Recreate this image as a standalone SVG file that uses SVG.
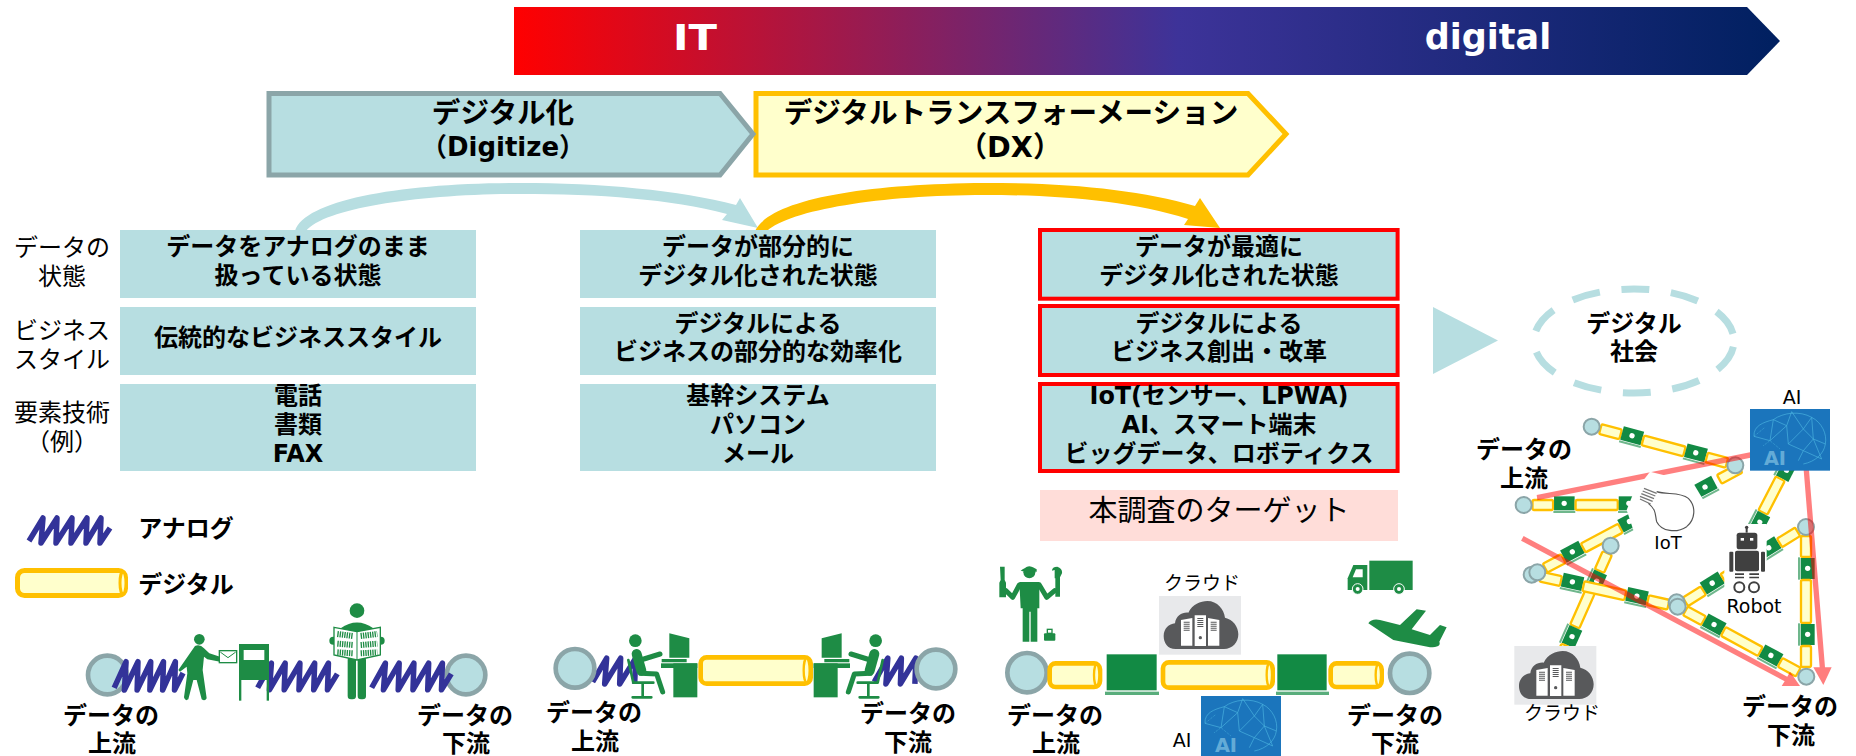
<svg xmlns="http://www.w3.org/2000/svg" xmlns:xlink="http://www.w3.org/1999/xlink" width="1856" height="756" viewBox="0 0 1856 756">
<style>
text{font-family:"DejaVu Sans","Noto Sans CJK JP",sans-serif;text-anchor:middle;dominant-baseline:central;fill:#000}
.b{font-weight:700}
.t24{font-size:24px}.t19{font-size:19px}
.box{fill:#B7DEE1}
.red{fill:#B7DEE1;stroke:#FF0000;stroke-width:4}
.zz{fill:none;stroke:#333399;stroke-width:5.5;stroke-linejoin:round;vector-effect:non-scaling-stroke}
.n{fill:#B7DEE1;stroke:#8BA5A8}
.pp{fill:#FFFFCC;stroke:#FFC000}
.gr{fill:#1E8C45}
.gs{fill:none;stroke:#1E8C45;stroke-linecap:round;stroke-linejoin:round}
.lt{fill:#128A44}
</style>
<defs>
<linearGradient id="grad" x1="0" x2="1" y1="0" y2="0">
<stop offset="0" stop-color="#FF0000"/><stop offset="0.525" stop-color="#3D3399"/><stop offset="1" stop-color="#002060"/>
</linearGradient>
<path id="zig" class="zz" d="M1 26L15 3L13 28L29 3L28 28L44 3L43 28L59 3L58 28L73 3L72 28L82 13"/>
<path id="zig3" class="zz" d="M1 26L15 3L13 28L29 3L28 28L44 3L43 28"/>
<g id="cloudimg">
<rect width="246" height="176" fill="#E8E9EB"/>
<path fill="#58595B" d="M50 159C25 159 14 140 14 120C14 98 30 84 48 82C50 60 70 48 88 50C100 25 125 15 145 15C175 15 195 40 198 65C222 70 238 92 238 115C238 140 220 159 195 159Z"/>
<path fill="#fff" d="M66 72L100 66V149H66ZM107 58H141V150H107ZM147 66L181 72V149H147Z"/>
<path fill="none" stroke="#58595B" stroke-width="18" stroke-dasharray="3 3" d="M83 77V105M124 66V94M164 77V105"/>
<circle cx="124" cy="125" r="5" fill="#58595B"/>
</g>
<g id="aiimg">
<rect width="240" height="185" fill="#1B75BC"/>
<g fill="none" stroke="#58C4EA" stroke-width="2" opacity=".8">
<path d="M12 82C10 50 40 40 70 32C100 10 150 5 185 25C215 40 232 75 226 105C222 135 195 158 160 165"/>
<path d="M12 82L60 95L70 32L110 50L125 8L160 60L185 25L190 90L226 105M60 95L110 50L115 105L160 60L190 90L160 125L115 105M190 90L215 150L160 125L145 155"/>
<path d="M12 82L45 55M40 110L60 95L90 120" stroke-dasharray="3 3"/>
</g>
<text x="75" y="150" font-size="58" font-weight="700" style="fill:#9FD8EE;opacity:.55">AI</text>
</g>
<g id="lap">
<rect x="0" y="-26" width="63" height="42" class="lt"/><rect x="-2" y="18" width="67" height="6" fill="#6FB78C"/><circle cx="31" cy="-5" r="8" fill="#fff"/>
</g>
<g id="chain">
<rect x="27" y="-15" width="63" height="30" rx="5" class="pp" stroke-width="7"/>
<use xlink:href="#lap" href="#lap" x="93"/>
<rect x="159" y="-15" width="129" height="30" rx="5" class="pp" stroke-width="7"/>
<use xlink:href="#lap" href="#lap" x="291"/>
<rect x="357" y="-15" width="63" height="30" rx="5" class="pp" stroke-width="7"/>
</g>
<g id="deskman">
<circle cx="346" cy="452" r="19" class="gr"/>
<path class="gs" stroke-width="30" d="M350 492L364 542"/>
<path class="gs" stroke-width="15" d="M362 510L420 492M362 550L410 552L428 606"/>
<path class="gs" stroke-width="8" d="M325 510L340 578L400 578M368 580V620M338 622H394"/>
<rect x="460" y="520" width="72" height="102" class="gr"/><rect x="423" y="520" width="109" height="14" class="gr"/>
<path class="gr" d="M448 430L508 445V503H448ZM425 507H500V517H425Z"/>
</g>
</defs>

<g id="top-arrow">
<polygon points="514,7 1747,7 1780,41 1747,75 514,75" fill="url(#grad)"/>
<text x="695" y="37" class="b" font-size="36" textLength="44" lengthAdjust="spacingAndGlyphs" style="fill:#fff">IT</text>
<text x="1488" y="37" class="b" font-size="35" style="fill:#fff">digital</text>
</g>

<g id="node-dx">
<polygon points="756,93.5 1248,93.5 1286,134 1248,175 756,175" fill="#FFFFCC" stroke="#FFC000" stroke-width="5"/>
<text x="1011" y="113" class="b" font-size="28.6">デジタルトランスフォーメーション</text>
<text x="1010" y="147" class="b" font-size="28.6">（DX）</text>
</g>
<g id="node-digitize">
<polygon points="269,93.5 720,93.5 753,134 720,175 269,175" fill="#B7DEE1" stroke="#8BA5A8" stroke-width="5"/>
<text x="503" y="113" class="b" font-size="28.6">デジタル化</text>
<text x="503" y="147" class="b" font-size="26">（Digitize）</text>
</g>

<g id="connectors">
<path fill="#B7DEE1" d="M295 231C305 200 400 183 520 183C600 183 680 190 736 205L740 198L758 228L722 220L727 214C670 199 600 194 520 194C420 194 325 208 306 231Z"/>
<path fill="#FFC000" d="M755 231C770 200 860 184 985 183C1070 183 1140 190 1195 206L1200 198L1220 228L1184 225L1188 219C1130 201 1060 195 985 195C880 195 790 210 767 231Z"/>
</g>

<g id="row-labels">
<text x="62" y="248" class="t24">データの</text><text x="62" y="277" class="t24">状態</text>
<text x="62" y="331" class="t24">ビジネス</text><text x="62" y="360" class="t24">スタイル</text>
<text x="62" y="413" class="t24">要素技術</text><text x="62" y="442" class="t24">（例）</text>
</g>

<g id="node-a1"><rect class="box" x="120" y="230" width="356" height="68"/><text x="298" y="247" class="b t24">データをアナログのまま</text><text x="298" y="276" class="b t24">扱っている状態</text></g>
<g id="node-a2"><rect class="box" x="120" y="307" width="356" height="68"/><text x="298" y="338" class="b t24">伝統的なビジネススタイル</text></g>
<g id="node-a3"><rect class="box" x="120" y="384" width="356" height="87"/><text x="298" y="396" class="b t24">電話</text><text x="298" y="425" class="b t24">書類</text><text x="298" y="454" class="b t24">FAX</text></g>

<g id="node-b1"><rect class="box" x="580" y="230" width="356" height="68"/><text x="758" y="247" class="b t24">データが部分的に</text><text x="758" y="276" class="b t24">デジタル化された状態</text></g>
<g id="node-b2"><rect class="box" x="580" y="307" width="356" height="68"/><text x="758" y="324" class="b t24">デジタルによる</text><text x="758" y="352" class="b t24">ビジネスの部分的な効率化</text></g>
<g id="node-b3"><rect class="box" x="580" y="384" width="356" height="87"/><text x="758" y="396" class="b t24">基幹システム</text><text x="758" y="425" class="b t24">パソコン</text><text x="758" y="454" class="b t24">メール</text></g>

<g id="node-c1"><rect class="red" x="1040" y="230" width="357.6" height="68.7"/><text x="1219" y="247" class="b t24">データが最適に</text><text x="1219" y="276" class="b t24">デジタル化された状態</text></g>
<g id="node-c2"><rect class="red" x="1040" y="306" width="357.6" height="69"/><text x="1219" y="324" class="b t24">デジタルによる</text><text x="1219" y="352" class="b t24">ビジネス創出・改革</text></g>
<g id="node-c3"><rect class="red" x="1040" y="384" width="357.6" height="87"/><text x="1219" y="396" class="b t24" textLength="259" lengthAdjust="spacingAndGlyphs">IoT(センサー、LPWA)</text><text x="1219" y="425" class="b t24">AI、スマート端末</text><text x="1219" y="454" class="b t24">ビッグデータ、ロボティクス</text></g>

<g id="node-target"><rect x="1040" y="490" width="358" height="51" fill="#FFDDD9"/><text x="1219" y="511" font-size="29">本調査のターゲット</text></g>

<g id="node-society">
<polygon points="1433,307 1433,374 1498,340.5" fill="#B7DEE1"/>
<ellipse cx="1634" cy="341" rx="100" ry="52" fill="none" stroke="#B7DEE1" stroke-width="7" stroke-dasharray="28 21.7" stroke-dashoffset="-6"/>
<text x="1634" y="324" class="b t24">デジタル</text><text x="1634" y="352" class="b t24">社会</text>
</g>

<g id="legend">
<use href="#zig" transform="translate(28,515)"/>
<text x="186" y="529" class="b t24">アナログ</text>
<rect x="17.5" y="570.5" width="108" height="25" rx="7" class="pp" stroke-width="5"/>
<ellipse cx="123" cy="583" rx="3" ry="11" class="pp" stroke-width="3"/>
<text x="186" y="585" class="b t24">デジタル</text>
</g>

<g id="flow-analog">
<g transform="translate(0,490) scale(.33333)">
<circle cx="322" cy="555" r="58" class="n" stroke-width="14"/><circle cx="1398" cy="555" r="58" class="n" stroke-width="14"/>
<use href="#zig" transform="translate(340,505) scale(2.55,3.4)"/>
<use href="#zig" transform="translate(770,510) scale(2.95,3.2)"/>
<use href="#zig" transform="translate(1112,510) scale(2.95,3.2)"/>
<circle cx="598" cy="448" r="16" class="gr"/>
<path class="gr" d="M585 468Q600 462 612 475L628 490L660 500V515L622 508L612 500L608 540L620 625Q615 635 605 628L590 570H580L565 628Q555 635 552 622L562 550L560 530L540 545L535 540Z"/>
<rect x="658" y="482" width="52" height="36" fill="#fff" stroke="#1E8C45" stroke-width="4"/><path class="gs" stroke-width="3" d="M662 487L684 503L706 487"/>
<rect x="717" y="462" width="90" height="108" class="gr"/><rect x="731" y="480" width="62" height="30" fill="#fff"/>
<rect x="717" y="570" width="7" height="62" class="gr"/><rect x="800" y="570" width="7" height="62" class="gr"/>
<circle cx="1071" cy="362" r="22" class="gr"/>
<path class="gr" d="M1022 415Q1071 380 1120 415V440H1022Z"/>
<rect x="1043" y="500" width="25" height="128" rx="10" class="gr"/><rect x="1073" y="500" width="25" height="128" rx="10" class="gr"/>
<circle cx="1000" cy="452" r="12" class="gr"/><circle cx="1142" cy="452" r="12" class="gr"/>
<polygon points="1002,412 1071,425 1141,412 1141,495 1071,510 1002,495" fill="#fff" stroke="#1E8C45" stroke-width="4"/>
<path fill="none" stroke="#1E8C45" stroke-width="18" stroke-dasharray="4 3" d="M1012 432L1060 438M1012 461L1060 465M1012 487L1060 490M1082 438L1132 432M1082 465L1132 461M1082 490L1132 487"/>
<path class="gs" stroke-width="3" d="M1071 425V510"/>
</g>
<text x="111" y="716" class="b t24">データの</text><text x="112" y="743.5" class="b t24">上流</text>
<text x="465" y="716" class="b t24">データの</text><text x="466" y="743.5" class="b t24">下流</text>
</g>

<g id="flow-partial">
<g transform="translate(520,490) scale(.33333)">
<use href="#zig3" transform="translate(215,495) scale(3,3.1)"/>
<use href="#zig3" transform="translate(1060,495) scale(2.9,3.1)"/>
<circle cx="165" cy="535" r="58" class="n" stroke-width="14"/><circle cx="1248" cy="537" r="58" class="n" stroke-width="14"/>
<use href="#deskman"/>
<use href="#deskman" transform="translate(1413,0) scale(-1,1)"/>
<rect x="542" y="502" width="330" height="79" rx="18" class="pp" stroke-width="14"/>
<ellipse cx="860" cy="541" rx="9" ry="36" class="pp" stroke-width="7"/>
</g>
<text x="594" y="713" class="b t24">データの</text><text x="595" y="742" class="b t24">上流</text>
<text x="908" y="714" class="b t24">データの</text><text x="908" y="743" class="b t24">下流</text>
</g>

<g id="flow-digital">
<g transform="translate(980,540) scale(.33333)">
<circle cx="141" cy="398" r="59" class="n" stroke-width="14"/><circle cx="1289" cy="400" r="59" class="n" stroke-width="14"/>
<rect x="209" y="370" width="151" height="71" rx="18" class="pp" stroke-width="14"/><ellipse cx="350" cy="405" rx="8" ry="32" class="pp" stroke-width="7"/>
<rect x="549" y="367" width="329" height="76" rx="18" class="pp" stroke-width="14"/><ellipse cx="868" cy="405" rx="8" ry="34" class="pp" stroke-width="7"/>
<rect x="1052" y="370" width="153" height="71" rx="18" class="pp" stroke-width="14"/><ellipse cx="1195" cy="405" rx="8" ry="32" class="pp" stroke-width="7"/>
<rect x="380" y="343" width="150" height="108" class="lt"/><rect x="375" y="455" width="162" height="10" fill="#128A44" opacity=".7"/>
<rect x="892" y="343" width="148" height="108" class="lt"/><rect x="888" y="455" width="159" height="10" fill="#128A44" opacity=".7"/>
<use href="#cloudimg" x="537" y="168"/>
<use href="#aiimg" x="663" y="468"/>
<circle cx="148" cy="97" r="18" class="gr"/><path class="gr" d="M122 92Q148 72 170 88V95H135Z"/>
<path class="gr" d="M118 126H178V205H172V305H152V215H148V305H128V205H122Z"/>
<path class="gs" stroke-width="15" d="M118 135L98 172L78 152M178 135L200 172L224 152"/>
<path class="gr" d="M60 80H74V120L78 128V172H58V128L62 120ZM224 115V90L216 92Q216 80 232 80Q248 85 246 100L240 112V170H226V115Z"/>
<rect x="192" y="280" width="34" height="22" rx="3" class="gr"/><rect x="202" y="268" width="14" height="12" fill="none" stroke="#1E8C45" stroke-width="4"/>
<rect x="1168" y="62" width="130" height="88" class="gr"/>
<path class="gr" d="M1103 150V115L1120 75H1162V150Z"/><path fill="#fff" d="M1118 112L1128 88H1148V112Z"/>
<circle cx="1133" cy="147" r="16" class="gr" stroke="#fff" stroke-width="3"/><circle cx="1133" cy="147" r="6" fill="#fff"/>
<circle cx="1257" cy="147" r="16" class="gr" stroke="#fff" stroke-width="3"/><circle cx="1257" cy="147" r="6" fill="#fff"/>
<path class="gr" d="M1165 250Q1175 235 1200 240L1260 255L1310 208L1338 212L1295 268L1350 285L1380 255L1400 262L1378 305Q1385 322 1350 322L1240 300Z"/>
</g>
<text x="1202" y="583" class="t19">クラウド</text>
<text x="1182" y="740" class="t19">AI</text>
<text x="1055" y="716" class="b t24">データの</text><text x="1056" y="743.5" class="b t24">上流</text>
<text x="1395" y="716" class="b t24">データの</text><text x="1395" y="743.5" class="b t24">下流</text>
</g>

<g id="network">
<g transform="translate(1460,380) scale(.33333)">
<use href="#chain" transform="translate(395,140) rotate(15)"/>
<use href="#chain" transform="translate(191,375) scale(.98,1)"/>
<use href="#chain" transform="translate(232,577) rotate(-28) scale(.98,1)"/>
<use href="#lap" transform="translate(710,340) rotate(-28)"/>
<rect x="0" y="-15" width="70" height="30" rx="5" class="pp" stroke-width="7" transform="translate(778,298) rotate(-28)"/>
<use href="#chain" transform="translate(452,497) rotate(114) scale(.92,1)"/>
<use href="#chain" transform="translate(215,584) rotate(12.4)"/>
<use href="#chain" transform="translate(653,680) rotate(-32) scale(1.01,1)"/>
<use href="#chain" transform="translate(653,680) rotate(28.5) scale(.98,1)"/>
<use href="#chain" transform="translate(1038,441) rotate(90) scale(1,1)"/>
<use href="#chain" transform="translate(1025,172) rotate(117.3) scale(.88,1)"/>
<g class="n" stroke-width="6">
<circle cx="395" cy="140" r="24"/><circle cx="826" cy="256" r="24"/><circle cx="191" cy="375" r="24"/><circle cx="452" cy="497" r="24"/>
<circle cx="215" cy="584" r="24"/><circle cx="232" cy="577" r="24"/><circle cx="650" cy="667" r="24"/><circle cx="653" cy="680" r="24"/>
<circle cx="1038" cy="441" r="24"/><circle cx="1039" cy="890" r="24"/>
</g>
<g fill="#FF0000" opacity=".5">
<path d="M230 345L870 217L872 233L232 361Z"/>
<path d="M1031 270L1047 270L1095 862H1115L1090 915L1060 862H1079Z"/>
<path d="M190.8 468L981.8 890L990 875L1020 918H965L974 904L183.2 482Z"/>
</g>
<path fill="#fff" d="M570 275L610 285L700 310L745 385L700 480L540 510L500 390L520 340Z"/>
<path fill="none" stroke="#555" stroke-width="3.5" d="M590 335C620 345 660 335 685 355C710 380 705 420 680 440C650 460 605 455 590 425C585 405 590 390 565 370"/>
<path fill="none" stroke="#777" stroke-width="4" d="M552 325L590 340M548 333L586 348M544 341L582 356M540 349L578 364M540 357L572 372"/>
<rect x="793" y="432" width="127" height="208" fill="#fff"/>
<g fill="#404040">
<path d="M857 440H863V458H857Z"/><circle cx="860" cy="442" r="5"/>
<rect x="830" y="458" width="62" height="50" rx="8"/><rect x="825" y="512" width="72" height="62" rx="6"/>
<rect x="808" y="515" width="12" height="60" rx="3"/><rect x="903" y="515" width="12" height="60" rx="3"/>
<path d="M825 580H852V585H825ZM868 580H897V585H868ZM825 590H852V595H825ZM868 590H897V595H868Z"/>
</g>
<rect x="842" y="474" width="10" height="8" fill="#fff"/><rect x="870" y="474" width="10" height="8" fill="#fff"/>
<circle cx="838" cy="622" r="15" fill="none" stroke="#404040" stroke-width="6"/><circle cx="882" cy="622" r="15" fill="none" stroke="#404040" stroke-width="6"/>
<use href="#cloudimg" transform="translate(163,798)"/>
<use href="#aiimg" x="870" y="87"/>
</g>
<text x="1792" y="397" class="t19">AI</text>
<text x="1668" y="542" font-size="18">IoT</text>
<text x="1754" y="606" class="t19">Robot</text>
<text x="1562" y="713" class="t19">クラウド</text>
<text x="1524" y="450" class="b t24">データの</text><text x="1524" y="479" class="b t24">上流</text>
<text x="1790" y="707" class="b t24">データの</text><text x="1791" y="736" class="b t24">下流</text>
</g>
</svg>
